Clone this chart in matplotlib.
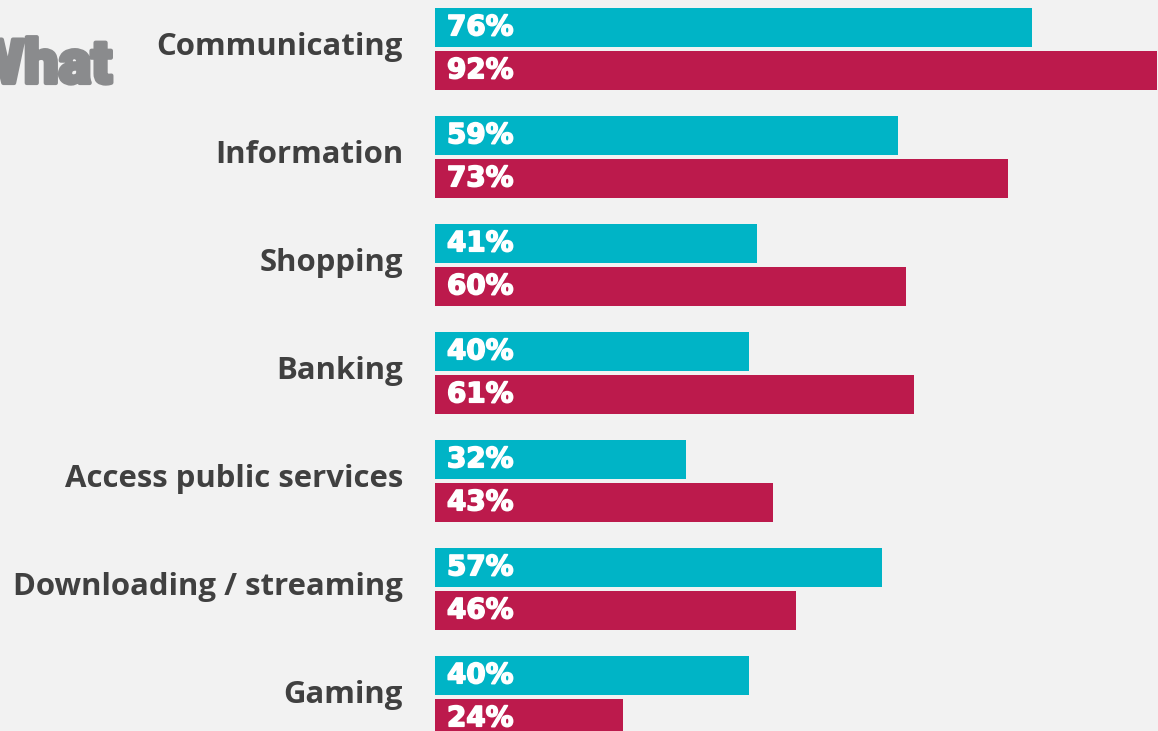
import matplotlib
matplotlib.use("Agg")
import matplotlib.pyplot as plt
import matplotlib.patheffects as pe

categories = ["Communicating", "Information", "Shopping", "Banking",
              "Access public services", "Downloading / streaming", "Gaming"]
series_a = [76, 59, 41, 40, 32, 57, 40]   # teal
series_b = [92, 73, 60, 61, 43, 46, 24]   # crimson

TEAL = "#00b4c6"
CRIMSON = "#bc1a4c"
BG = "#f2f2f2"

W, H = 1158, 731
fig = plt.figure(figsize=(W / 100, H / 100), dpi=100, facecolor=BG)
x0 = 435 / W
ax = fig.add_axes([x0, 0, 1 - x0, 1])
ax.set_facecolor(BG)
px_per_unit = 7.85
xmax = (W - 435) / px_per_unit
ax.set_xlim(0, xmax)
row_px = 108
ax.set_ylim(H / row_px, 0)
ax.axis("off")

bh = 38.5 / row_px
ya = [i + (8 + 19.25) / row_px for i in range(len(categories))]
yb = [i + (51 + 19.25) / row_px for i in range(len(categories))]

ax.barh(ya, series_a, height=bh, color=TEAL, edgecolor="none")
ax.barh(yb, series_b, height=bh, color=CRIMSON, edgecolor="none")

txt_x = 12 / px_per_unit
heavy = [pe.withStroke(linewidth=1.2, foreground="white")]
for y, v in zip(ya, series_a):
    ax.text(txt_x, y, f"{v}%", color="white", fontsize=20, fontweight="bold",
            family="DejaVu Sans", va="center", ha="left", path_effects=heavy)
for y, v in zip(yb, series_b):
    ax.text(txt_x, y, f"{v}%", color="white", fontsize=20, fontweight="bold",
            family="DejaVu Sans", va="center", ha="left", path_effects=heavy)

lab_x = -32 / px_per_unit
for i, c in enumerate(categories):
    ax.text(lab_x, i + 55 / row_px, c, color="#404040", fontsize=22.4,
            fontweight="bold", family="Open Sans", ha="right", va="baseline",
            clip_on=False)

fig.text(112 / W, 1 - 83 / H, "What", color="#8a8b8d", fontsize=44,
         fontweight="black", family="Roboto", ha="right", va="baseline",
         path_effects=[pe.withStroke(linewidth=3, foreground="#8a8b8d")])

fig.savefig("out.png", dpi=100, facecolor=BG)
